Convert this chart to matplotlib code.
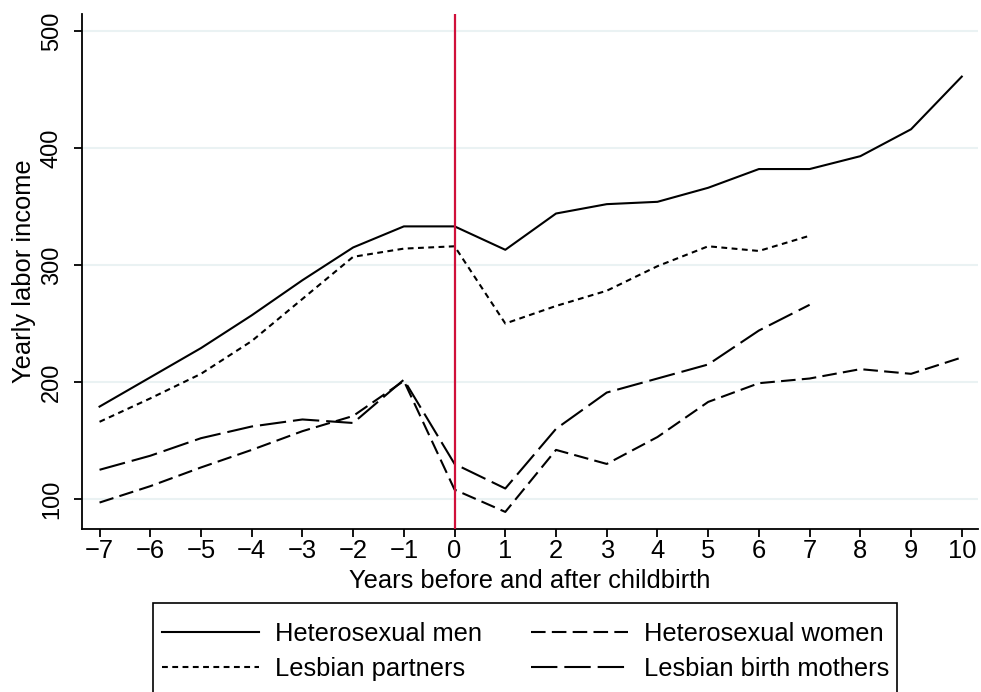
import numpy as np
import matplotlib
matplotlib.use("Agg")
import matplotlib.pyplot as plt
from matplotlib.lines import Line2D
from matplotlib.patches import Rectangle

plt.rcParams['font.family'] = ['Liberation Sans', 'DejaVu Sans']
plt.rcParams['lines.scale_dashes'] = False

# yearly labor income around childbirth
years = list(range(-7, 11))
years_lesb = list(range(-7, 8))
het_men = [179, 204, 229, 257, 287, 315, 333, 333, 313, 344, 352, 354, 366, 382, 382, 393, 416, 461]
het_women = [97, 111, 127, 142, 158, 171, 201, 108, 89, 142, 130, 153, 183, 199, 203, 211, 207, 221]
lesb_partners = [166, 186, 207, 235, 271, 307, 314, 316, 250, 265, 278, 299, 316, 312, 325]
birth_mothers = [125, 137, 152, 162, 168, 165, 202, 130, 109, 160, 191, 203, 215, 244, 266]

labels = ['Heterosexual men', 'Heterosexual women', 'Lesbian partners', 'Lesbian birth mothers']
yticks = [100, 200, 300, 400, 500]

fs = 18.4
W, H = 981, 692
fig = plt.figure(figsize=(W/100, H/100), dpi=100)
ax = fig.add_axes([82.3/W, 1-529/H, (978-82.3)/W, (529-14)/H])

lw = 1.5
styles = {
    'men': dict(color='black', lw=lw, linestyle='-'),
    'women': dict(color='black', lw=lw, linestyle=(0, (10.5, 4.5))),
    'partners': dict(color='black', lw=lw, linestyle=(0, (4.2, 3.2))),
    'mothers': dict(color='black', lw=lw, linestyle=(0, (19, 5))),
}

for y in yticks:
    ax.axhline(y, color='#eaf2f3', lw=1.5, zorder=0)

ax.plot(years, het_men, **styles['men'])
ax.plot(years, het_women, **styles['women'])
ax.plot(years_lesb, lesb_partners, **styles['partners'])
ax.plot(years_lesb, birth_mothers, **styles['mothers'])

ax.axvline(0, color='#d0103a', lw=1.6, zorder=3)

ax.set_xlim(-7.34, 10.32)
ax.set_ylim(74.4, 514.5)
ax.set_xticks(years)
ax.set_xticklabels([str(x).replace('-', '\u2212') for x in years])
ax.set_yticks(yticks)
ax.set_yticklabels([str(y) for y in yticks], rotation=90, va='center')

for s in ['top', 'right']:
    ax.spines[s].set_visible(False)
for s in ['left', 'bottom']:
    ax.spines[s].set_linewidth(1.3)
ax.tick_params(axis='both', length=6, width=1.3)
ax.tick_params(axis='x', labelsize=fs, pad=1)
ax.tick_params(axis='y', labelsize=17, pad=8)

ax.set_xlabel('Years before and after childbirth', fontsize=fs)
ax.set_ylabel('Yearly labor income', fontsize=fs)
ax.xaxis.set_label_coords(0.5, -(569-529)/515)
ax.yaxis.set_label_coords((36-82.3)/(978-82.3), 0.5)

# legend box (runs off the bottom edge)
fig.add_artist(Rectangle((153/W, -0.05), (897-153)/W, 0.05 + 1-603/H,
                         transform=fig.transFigure, fill=False, edgecolor='black',
                         lw=1.2, clip_on=False))

handles = [Line2D([], [], **styles['men']), Line2D([], [], **styles['women']),
           Line2D([], [], **styles['partners']), Line2D([], [], **styles['mothers'])]
order = [0, 2, 1, 3]
leg = fig.legend([handles[i] for i in order], [labels[i] for i in order],
                 ncol=2, frameon=False, fontsize=fs, loc='upper left',
                 bbox_to_anchor=(162/W, 1-622/H), handlelength=3.8,
                 handletextpad=0.63, columnspacing=1.9, labelspacing=0.42,
                 borderaxespad=0, borderpad=0)

fig.savefig('out.png', dpi=100)
